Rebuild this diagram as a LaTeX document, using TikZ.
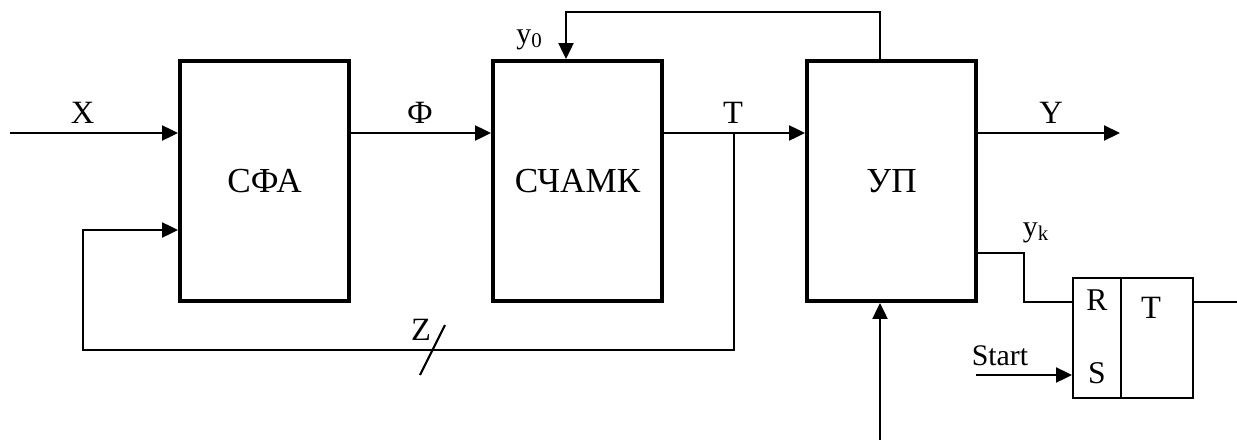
\documentclass[tikz,border=0pt]{standalone}
\usepackage{fontspec}
\setmainfont{Liberation Serif}
\usetikzlibrary{arrows.meta,positioning}

\begin{document}
\begin{tikzpicture}[
  >={Triangle[length=3.2mm,width=3mm]},
  unit/.style={draw,line width=2.2pt,minimum width=33.8mm,minimum height=48mm,
    inner sep=0pt,font=\fontsize{20}{22}\selectfont},
  cell/.style={draw,line width=1.1pt,minimum height=24mm,inner sep=0pt},
  sig/.style={anchor=base,inner sep=0pt,font=\fontsize{18.5}{20}\selectfont},
  wire/.style={line width=1.2pt},
  every edge/.style={draw,->,wire}
]
\useasboundingbox (0,0) rectangle (24.74,8.88);

% main units
\node[unit] (sfa) at (5.29,5.26) {СФА};
\node[unit] (schamk) at (11.55,5.26) {СЧАМК};
\node[unit] (up) at (17.83,5.26) {УП};

% RS trigger
\node[cell,minimum width=9.6mm] (rs) at (21.94,2.12) {};
\node[cell,minimum width=14.4mm] (trig) at (23.14,2.12) {};

% free ends and bends
\coordinate (xin) at (0.2,6.22);
\coordinate (tj) at (14.68,6.22);
\coordinate (zr) at (14.68,1.88);
\coordinate (zl) at (1.66,1.88);
\coordinate (zin) at (1.66,4.28);
\coordinate (fb) at (17.6,8.64);
\coordinate (fbl) at (11.32,8.64);
\coordinate (yout) at (22.4,6.22);
\coordinate (ykb) at (20.48,3.82);
\coordinate (start) at (19.52,1.38);
\coordinate (tout) at (24.74,2.84);
\coordinate (bot) at (17.6,0.08);

\path (xin) edge (sfa.west |- xin)
      (sfa.east |- xin) edge (schamk.west |- xin)
      (schamk.east |- xin) edge (up.west |- xin)
      (up.east |- xin) edge (yout)
      (start) edge (rs.west |- start)
      (bot) edge (up.south -| bot);

% feedback loops
\draw[wire,->] (tj) -- (zr) -- (zl) -- (zin) -- (sfa.west |- zin);
\draw[wire,->] (up.north -| fb) -- (fb) -- (fbl) -- (schamk.north -| fbl);
\draw[wire] (up.east |- ykb) -- (ykb) |- (rs.west |- tout);
\draw[wire] (trig.east |- tout) -- (tout);
\draw[wire] (8.4,1.38) -- (8.9,2.38);

% labels
\node[sig] (xlab) at (1.65,6.42) {X};
\node[sig] (philab) at (8.4,6.42) {Ф};
\node[sig] (tlab) at (14.66,6.42) {T};
\node[sig] (ylab) at (21.02,6.42) {Y};
\node[sig] (zlab) at (8.42,2.08) {Z};
\node[sig,font=\fontsize{18}{20}\selectfont] (rlab) at (21.94,2.68) {R};
\node[sig,font=\fontsize{18}{20}\selectfont] (slab) at (21.94,1.22) {S};
\node[sig] (qlab) at (23.02,2.52) {T};
\node[sig,font=\fontsize{17}{19}\selectfont] (stlab) at (20.0,1.58) {Start};
\node[sig,font=\fontsize{17}{19}\selectfont] (y0lab) at (10.59,8.02) {y\textsubscript{0}};
\node[sig,font=\fontsize{17}{19}\selectfont] (yklab) at (20.72,4.16) {y\textsubscript{k}};
\end{tikzpicture}
\end{document}
